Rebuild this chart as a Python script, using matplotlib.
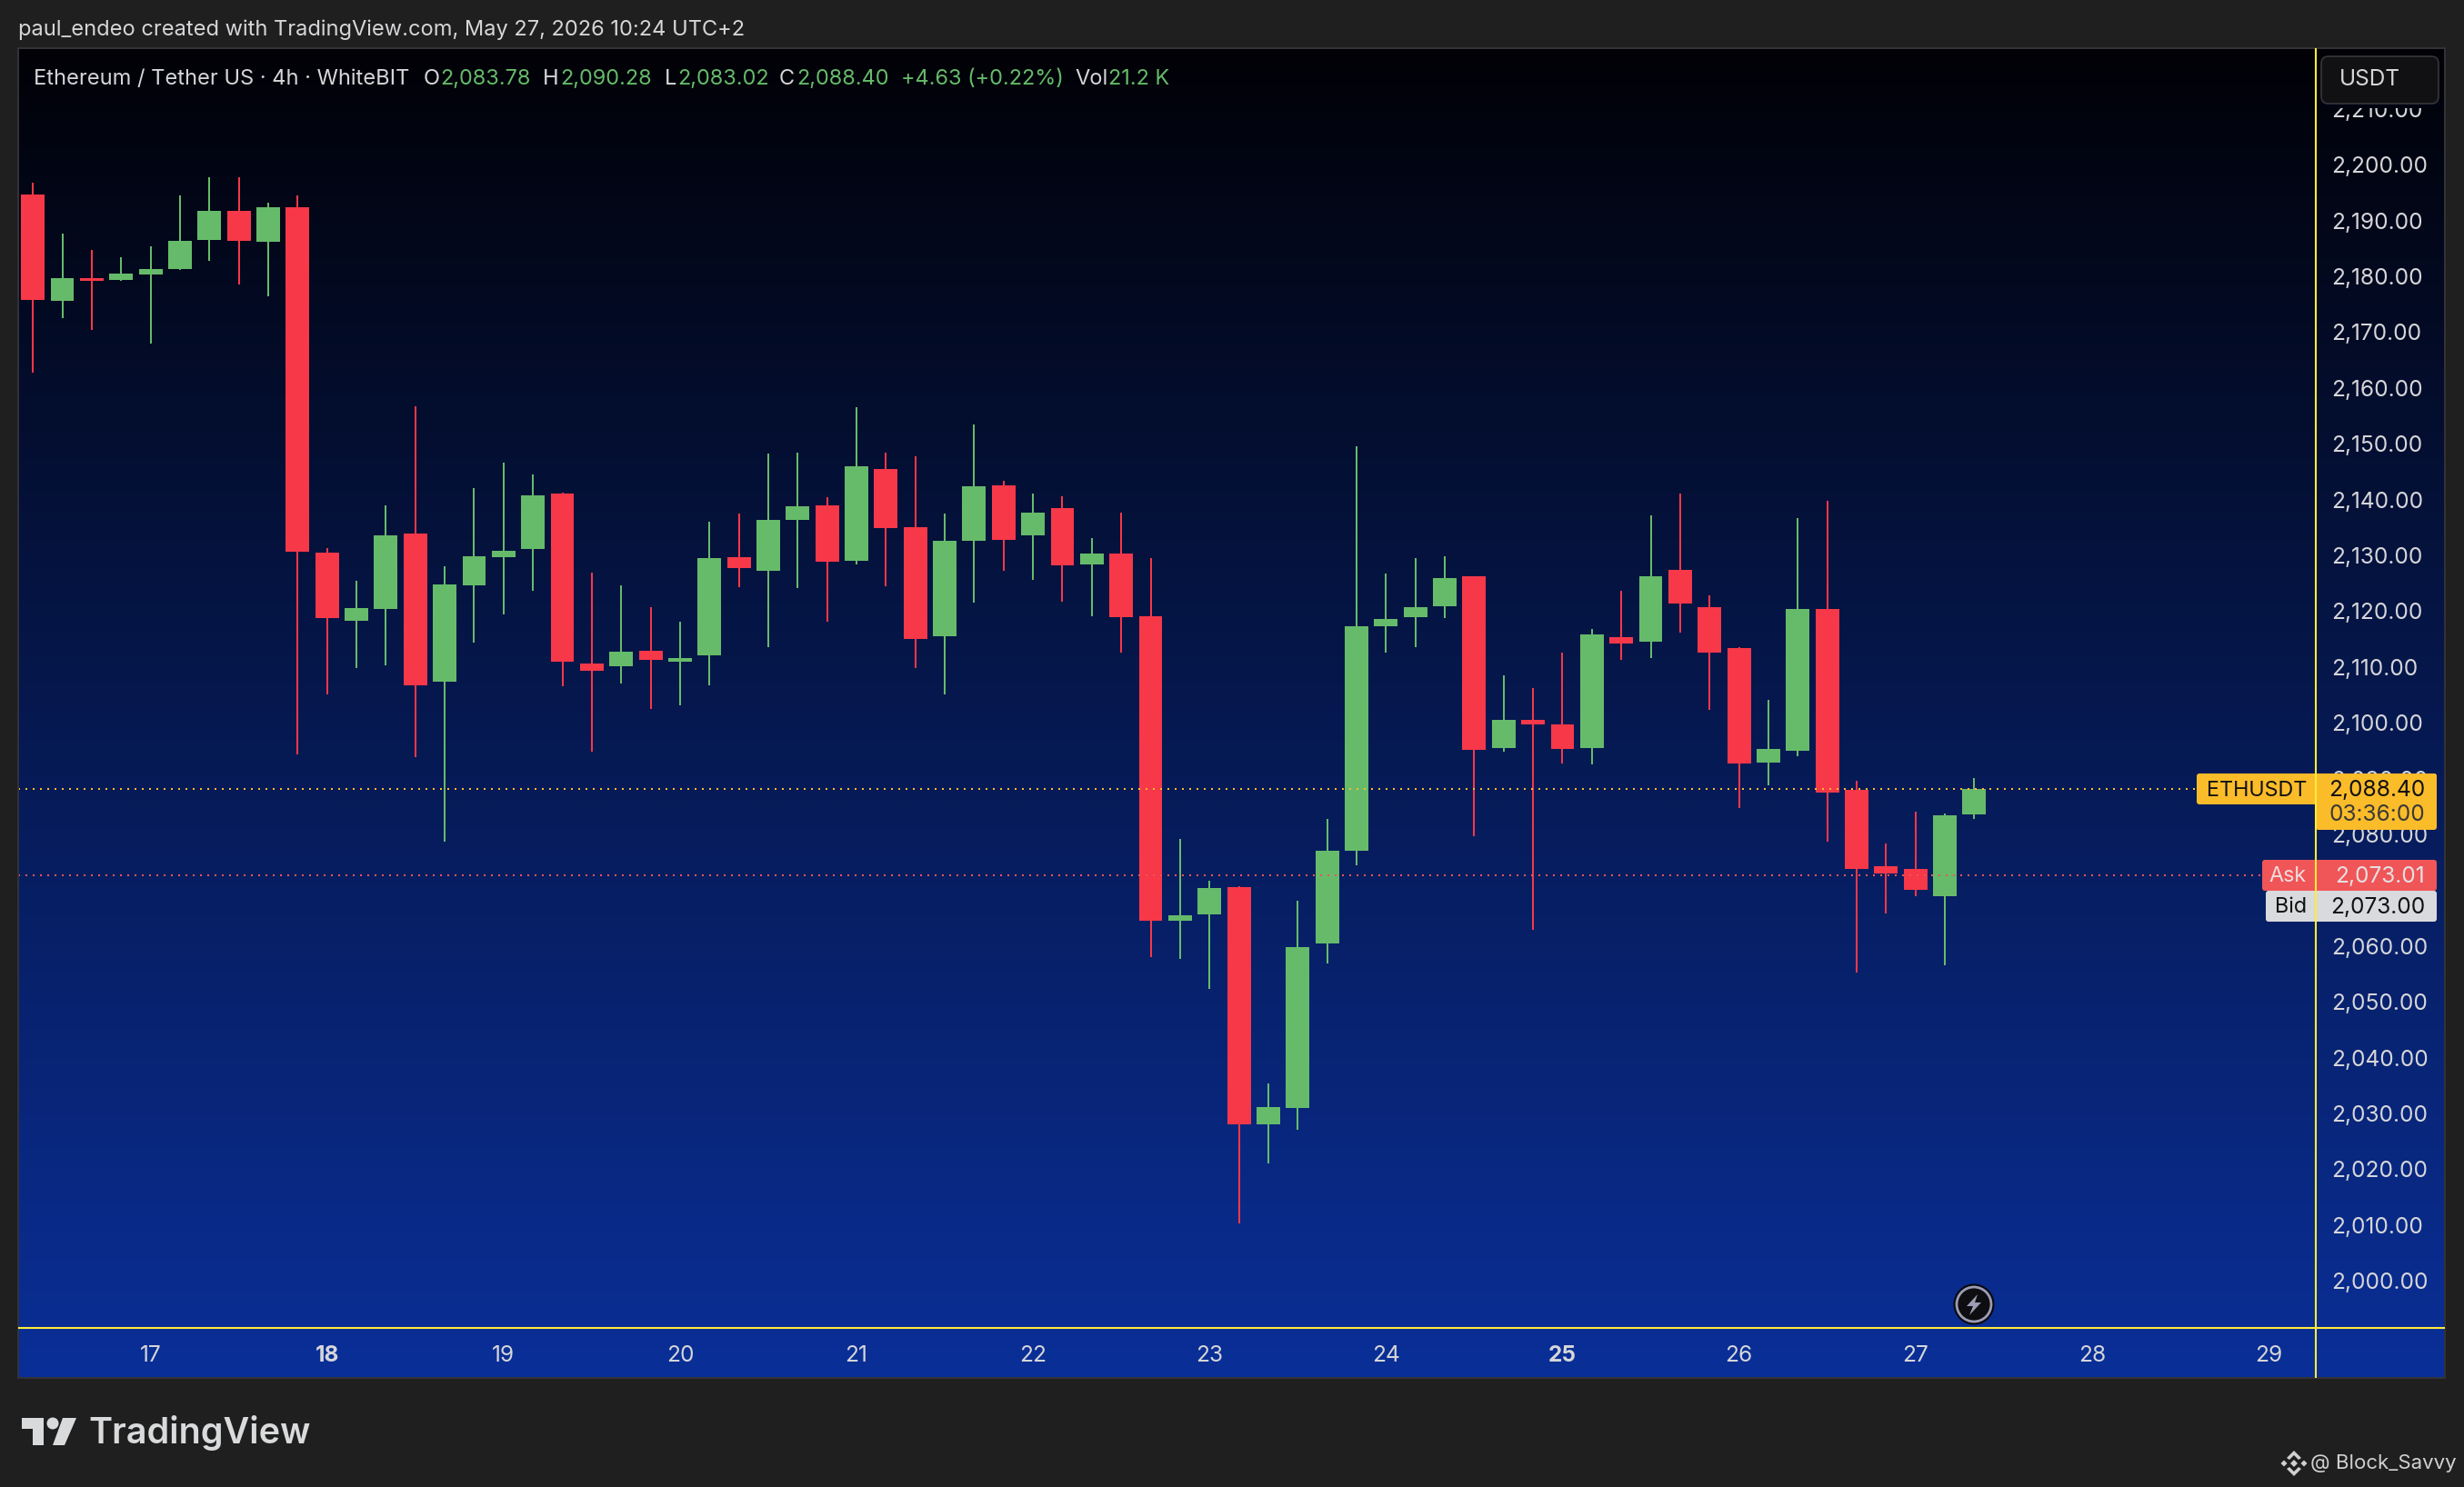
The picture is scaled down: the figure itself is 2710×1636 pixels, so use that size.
#!/usr/bin/env python3
"""ETH/USDT 4h candles, TradingView dark snapshot with blue gradient."""

import matplotlib

matplotlib.use("Agg")
import matplotlib.pyplot as plt  # noqa: E402
import numpy as np  # noqa: E402
from matplotlib.patches import Circle, FancyBboxPatch, Polygon, Rectangle  # noqa: E402
from matplotlib.transforms import ScaledTranslation  # noqa: E402

plt.rcParams["font.family"] = ["Inter", "DejaVu Sans"]

W, H = 2710, 1636

opens = [2194.95, 2175.84, 2179.91, 2179.58, 2180.58, 2181.57, 2186.81, 2191.96, 2186.48, 2192.63,
         2130.72, 2118.50, 2120.66, 2134.13, 2107.62, 2124.90, 2129.97, 2131.38, 2141.35, 2110.86,
         2110.36, 2113.18, 2111.19, 2112.35, 2129.94, 2127.47, 2136.63, 2139.24, 2129.28, 2145.72,
         2135.32, 2115.76, 2132.85, 2142.81, 2133.86, 2138.74, 2128.63, 2130.59, 2119.32, 2064.79,
         2065.96, 2070.79, 2028.33, 2031.22, 2060.73, 2077.30, 2117.58, 2119.21, 2121.17, 2126.50,
         2095.71, 2100.77, 2099.96, 2095.71, 2115.63, 2114.75, 2127.65, 2120.96, 2113.67, 2093.14,
         2095.24, 2120.63, 2088.22, 2074.58, 2074.04, 2069.18, 2083.78]
highs = [2197.03, 2187.89, 2184.98, 2183.65, 2185.65, 2194.79, 2198.03, 2198.03, 2193.46, 2194.79,
         2131.55, 2125.73, 2139.20, 2156.98, 2128.31, 2142.27, 2146.84, 2144.76, 2141.52, 2127.14,
         2124.90, 2120.99, 2118.34, 2136.29, 2137.72, 2148.48, 2148.62, 2140.70, 2156.77, 2148.62,
         2148.04, 2137.72, 2153.71, 2143.61, 2141.35, 2140.84, 2133.36, 2137.94, 2129.79, 2079.41,
         2071.92, 2070.97, 2035.61, 2068.39, 2083.03, 2149.79, 2127.03, 2129.74, 2130.08, 2126.50,
         2108.74, 2106.45, 2112.86, 2117.05, 2123.93, 2137.44, 2141.35, 2123.06, 2113.81, 2104.35,
         2136.97, 2140.00, 2089.84, 2078.63, 2084.30, 2084.03, 2090.28]
lows = [2162.96, 2172.77, 2170.69, 2179.41, 2168.20, 2181.41, 2182.99, 2178.83, 2176.67, 2094.57,
        2105.37, 2110.03, 2110.53, 2094.07, 2078.95, 2114.60, 2119.67, 2123.90, 2106.78, 2095.07,
        2107.28, 2102.72, 2103.38, 2106.95, 2124.56, 2113.80, 2124.41, 2118.38, 2128.63, 2124.71,
        2110.09, 2105.36, 2121.80, 2127.47, 2125.87, 2121.94, 2119.32, 2112.85, 2058.25, 2057.96,
        2052.58, 2010.55, 2021.28, 2027.30, 2057.12, 2074.76, 2112.85, 2113.81, 2119.00, 2079.91,
        2095.10, 2063.16, 2092.94, 2092.81, 2111.51, 2111.85, 2116.44, 2102.60, 2084.98, 2089.02,
        2094.22, 2078.96, 2055.47, 2066.07, 2069.18, 2056.82, 2083.02]
closes = [2176.00, 2179.91, 2179.41, 2180.74, 2181.57, 2186.64, 2191.96, 2186.64, 2192.63, 2130.89,
          2119.00, 2120.83, 2133.88, 2107.00, 2125.07, 2130.05, 2131.05, 2141.02, 2111.19, 2109.61,
          2113.02, 2111.52, 2111.85, 2129.81, 2127.98, 2136.63, 2139.03, 2129.14, 2146.20, 2135.17,
          2115.25, 2132.85, 2142.66, 2132.99, 2137.94, 2128.48, 2130.59, 2119.18, 2064.79, 2065.74,
          2070.68, 2028.33, 2031.40, 2060.07, 2077.30, 2117.58, 2118.89, 2120.96, 2126.16, 2095.37,
          2100.77, 2099.96, 2095.58, 2116.10, 2114.48, 2126.50, 2121.64, 2112.86, 2092.94, 2095.58,
          2120.63, 2087.74, 2074.04, 2073.23, 2070.32, 2083.69, 2088.40]

price_ticks = list(range(2000, 2220, 10))
day_ticks = [4, 10, 16, 22, 28, 34, 40, 46, 52, 58, 64, 70, 76]
day_labels = ["17", "18", "19", "20", "21", "22", "23", "24", "25", "26", "27", "28", "29"]
bold_days = ["18", "25"]

last_price = 2088.40
ask_price = 2073.01
bid_price = 2073.00

UP = "#66BB6A"
DOWN = "#F63849"
TEXT = "#D6D6D9"
BG = "#1F1F1F"
CROSS = "#FFEB3B"
AMBER = "#FBBC2A"
ASK = "#F05558"
BID = "#D9DADD"

AXIS_FS = 17.6

# panel limits in pixels
PANEL_L, PANEL_R, PANEL_T, PANEL_B = 20, 2689, 53, 1516
AXIS_R, AXIS_B = 2547, 1461


def px_axes(fig, left, top, right, bottom, **kw):
    return fig.add_axes([left / W, 1 - bottom / H, (right - left) / W, (bottom - top) / H], **kw)


def draw_candles(ax):
    x = np.arange(len(opens))
    o, h, lo, c = map(np.array, (opens, highs, lows, closes))
    colors = [UP if b >= a else DOWN for a, b in zip(o, c)]
    wicks = ax.vlines(x, lo, h, colors=colors, linewidth=1.44, capstyle="butt", zorder=2)
    wicks.set_snap(True)
    ax.bar(x, np.abs(c - o), width=0.8, bottom=np.minimum(o, c), color=colors, linewidth=0, zorder=3)


def draw_tag(ov, x0, x1, y0, y1, color):
    ov.add_patch(FancyBboxPatch((x0 + 3, y0 + 3), x1 - x0 - 6, y1 - y0 - 6,
                                boxstyle="round,pad=3,rounding_size=3",
                                facecolor=color, edgecolor="none", zorder=3))


def main():
    fig = plt.figure(figsize=(W / 100, H / 100), dpi=100, facecolor=BG)

    # gradient behind everything
    bg = px_axes(fig, PANEL_L, PANEL_T, PANEL_R, PANEL_B, zorder=0)
    bg.axis("off")
    t = np.linspace(0, 1, 512)[:, None, None]
    top_rgb = np.array([1, 1, 6]) / 255
    bot_rgb = np.array([10, 47, 152]) / 255
    bg.imshow(top_rgb + t * (bot_rgb - top_rgb), aspect="auto", extent=(0, 1, 0, 1))

    ax = px_axes(fig, PANEL_L, PANEL_T, AXIS_R, AXIS_B, zorder=1)
    ax.patch.set_alpha(0)
    for s in ax.spines.values():
        s.set_visible(False)
    ax.set_xlim(-0.5, 77.61)
    ax.set_ylim(1991.82, 2221.14)
    draw_candles(ax)

    ax.plot([-0.5, 73.6], [last_price, last_price], color=AMBER, lw=1.44,
            linestyle=(0, (1, 3)), dash_capstyle="butt", zorder=4)
    ax.plot([-0.5, 75.8], [ask_price, ask_price], color=ASK, lw=1.44,
            linestyle=(0, (1, 3)), dash_capstyle="butt", zorder=4)

    ax.yaxis.tick_right()
    ax.set_yticks(price_ticks)
    ax.set_yticklabels([f"{p:,.2f}" for p in price_ticks], fontsize=AXIS_FS, color=TEXT)
    ax.set_xticks(day_ticks)
    ax.set_xticklabels(day_labels, fontsize=AXIS_FS, color=TEXT)
    for lab in ax.get_xticklabels():
        if lab.get_text() in bold_days:
            lab.set_fontweight("bold")
    ax.tick_params(axis="both", length=0)
    ax.tick_params(axis="y", pad=12.3)
    ax.tick_params(axis="x", pad=13.7)
    nudge = ScaledTranslation(0, 1.5 / 100, fig.dpi_scale_trans)
    for lab in ax.get_yticklabels():
        lab.set_transform(lab.get_transform() + nudge)

    # chrome drawn in pixel coordinates
    ov = px_axes(fig, 0, 0, W, H, zorder=2)
    ov.set_xlim(0, W)
    ov.set_ylim(H, 0)
    ov.axis("off")
    ov.patch.set_alpha(0)

    ov.add_patch(Rectangle((PANEL_L, PANEL_T), PANEL_R - PANEL_L, PANEL_B - PANEL_T,
                           fill=False, edgecolor="#333338", linewidth=1.4, zorder=2))

    ov.text(20, 33, "paul_endeo created with TradingView.com, May 27, 2026 10:24 UTC+2",
            color=TEXT, fontsize=17, va="center")

    legend = [
        (37, "Ethereum / Tether US · 4h · WhiteBIT", TEXT, 17),
        (466, "O", TEXT, 17), (484, "2,083.78", UP, 16.9),
        (597, "H", TEXT, 17), (616, "2,090.28", UP, 16.9),
        (731, "L", TEXT, 17), (745, "2,083.02", UP, 16.9),
        (857, "C", TEXT, 17), (876, "2,088.40", UP, 16.9),
        (991, "+4.63 (+0.22%)", UP, 16.9),
        (1182, "Vol", TEXT, 17), (1219, "21.2 K", UP, 16.9),
    ]
    for x, s, c, fs in legend:
        ov.text(x, 87, s, color=c, fontsize=fs, va="center")

    # currency button hides the top tick, with a short fade band under it
    ov.add_patch(Rectangle((2550, 112), 137, 7, facecolor="#020310", edgecolor="none", zorder=3))
    ov.add_patch(FancyBboxPatch((2561, 70), 113, 36, boxstyle="round,pad=8,rounding_size=8",
                                facecolor="#111113", edgecolor="#36363A", linewidth=1.2, zorder=3))
    ov.text(2573, 87, "USDT", color=TEXT, fontsize=AXIS_FS, va="center", zorder=4)

    # price tags
    draw_tag(ov, 2416, 2680, 851, 885, AMBER)
    draw_tag(ov, 2547, 2680, 851, 913, AMBER)
    draw_tag(ov, 2488, 2680, 946, 980, ASK)
    draw_tag(ov, 2492, 2680, 980, 1014, BID)
    tags = [
        (2537, 869.5, "ETHUSDT", "#111111", 16.8), (2667, 869.5, f"{last_price:,.2f}", "#111111", AXIS_FS),
        (2667, 896.5, "03:36:00", "#3A3A36", AXIS_FS),
        (2537, 964.5, "Ask", "#F2DCDC", 16.8), (2667, 964.5, f"{ask_price:,.2f}", "#E4E0E2", AXIS_FS),
        (2537, 998.5, "Bid", "#111111", 16.8), (2667, 998.5, f"{bid_price:,.2f}", "#111111", AXIS_FS),
    ]
    for x, y, s, c, fs in tags:
        ov.text(x, y, s, color=c, fontsize=fs, ha="right", va="center", zorder=5)

    # crosshair-like separators
    ov.plot([AXIS_R, AXIS_R], [PANEL_T, PANEL_B], color=CROSS, lw=1.5, zorder=6, solid_capstyle="butt")
    ov.plot([PANEL_L, PANEL_R], [AXIS_B, AXIS_B], color=CROSS, lw=1.5, zorder=6, solid_capstyle="butt")

    # replay badge
    ov.add_patch(Circle((2171, 1435), 22.5, facecolor="#08080C", edgecolor="none", zorder=3))
    ov.add_patch(Circle((2171, 1435), 19, facecolor="#0E0E12", edgecolor="#9C9CB4", linewidth=2, zorder=3))
    ov.add_patch(Polygon([(2175, 1424), (2163, 1437), (2170, 1437), (2166, 1447),
                          (2179, 1433), (2172, 1433)], facecolor="#9C9CB4", zorder=4))

    # TradingView logo
    logo = "#D9DADC"
    ov.add_patch(Polygon([(24, 1560), (48, 1560), (48, 1590), (36, 1590), (36, 1572), (24, 1572)],
                         facecolor=logo))
    ov.add_patch(Circle((58, 1566), 6.5, facecolor=logo))
    ov.add_patch(Polygon([(69, 1560), (84, 1560), (71, 1590), (58, 1590)], facecolor=logo))
    ov.text(97, 1577, "TradingView", color=logo, fontsize=28.5, fontweight="semibold", va="center")

    # watermark
    wm = "#D0D0D2"
    cx, cy = 2523, 1610
    for dx, dy, r in [(0, 0, 4), (-11, 0, 3.5), (11, 0, 3.5)]:
        ov.add_patch(Polygon([(cx + dx - r, cy + dy), (cx + dx, cy + dy - r),
                              (cx + dx + r, cy + dy), (cx + dx, cy + dy + r)], facecolor=wm))
    ov.add_patch(Polygon([(cx, cy - 14), (cx + 8, cy - 6), (cx + 5, cy - 4), (cx, cy - 9),
                          (cx - 5, cy - 4), (cx - 8, cy - 6)], facecolor=wm))
    ov.add_patch(Polygon([(cx, cy + 14), (cx + 8, cy + 6), (cx + 5, cy + 4), (cx, cy + 9),
                          (cx - 5, cy + 4), (cx - 8, cy + 6)], facecolor=wm))
    ov.text(2541, 1610, "@ Block_Savvy", color=wm, fontsize=16, va="center")

    fig.savefig("out.png", dpi=100, facecolor=BG)


if __name__ == "__main__":
    main()
